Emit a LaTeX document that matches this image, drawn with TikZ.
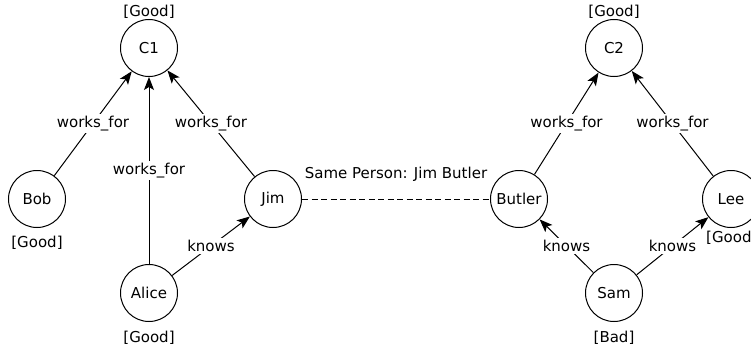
\documentclass[tikz,border=0pt]{standalone}
\usepackage{fontspec}
\setmainfont{DejaVu Sans}
\usetikzlibrary{arrows.meta, positioning}

\tikzset{
  person/.style={draw, circle, minimum size=57pt, inner sep=0pt, line width=1pt},
  rel/.style={-{Stealth[length=13pt, width=10pt, inset=3pt]}, line width=1pt},
  lbl/.style={fill=white, inner sep=2pt},
  tag/.style={inner sep=0pt}
}

\begin{document}
\begin{tikzpicture}[x=1pt, y=-1pt, font=\fontsize{15}{18}\selectfont]
  \clip (0,0) rectangle (751,353);

  % Companies
  \node[person] (c1) at (149,48) {C1};
  \node[person] (c2) at (614,48) {C2};

  % People
  \node[person] (bob) at (37,199) {Bob};
  \node[person] (jim) at (273,199) {Jim};
  \node[person] (alice) at (149,293) {Alice};
  \node[person] (butler) at (519,199) {Butler};
  \node[person] (lee) at (731,199) {Lee};
  \node[person] (sam) at (614,293) {Sam};

  % Ratings
  \node[tag] (c1tag) at (149,12) {[Good]};
  \node[tag] (c2tag) at (614,12) {[Good]};
  \node[tag] (bobtag) at (37,243) {[Good]};
  \node[tag] (alicetag) at (149,338) {[Good]};
  \node[tag] (samtag) at (614,338) {[Bad]};
  \node[tag, anchor=west] (leetag) at (706,238) {[Good]};

  % Relations
  \draw[rel] (bob) -- node[lbl] {works\_for} (c1);
  \draw[rel] (alice) -- node[lbl] {works\_for} (c1);
  \draw[rel] (jim) -- node[lbl] {works\_for} (c1);
  \draw[rel] (alice) -- node[lbl] {knows} (jim);
  \draw[rel] (butler) -- node[lbl] {works\_for} (c2);
  \draw[rel] (lee) -- node[lbl] {works\_for} (c2);
  \draw[rel] (sam) -- node[lbl] {knows} (butler);
  \draw[rel] (sam) -- node[lbl] {knows} (lee);

  % Same person link
  \draw[dash pattern=on 6pt off 3.5pt, line width=1pt] (jim) -- node[above=14pt] (same) {Same Person: Jim Butler} (butler);
\end{tikzpicture}
\end{document}
